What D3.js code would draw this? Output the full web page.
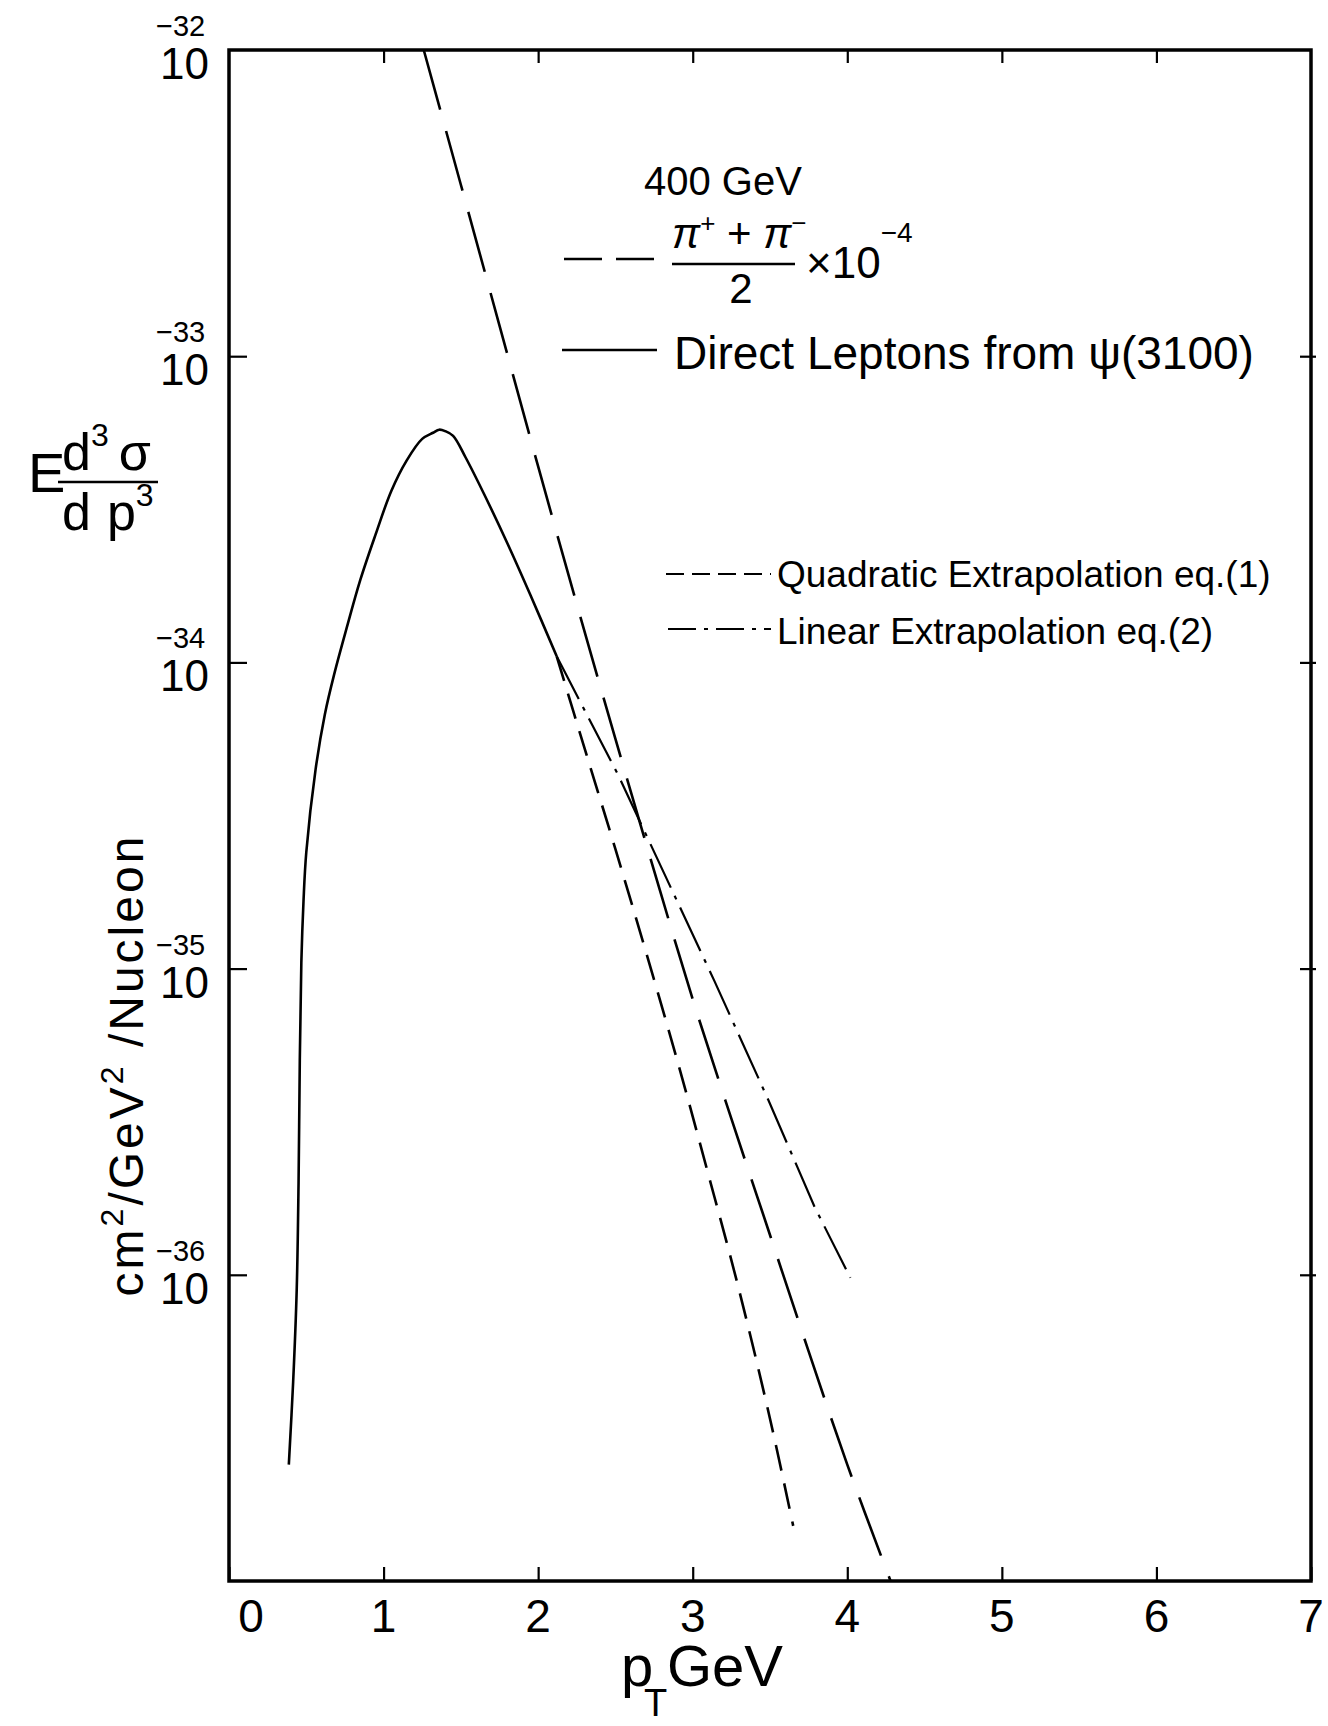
<!DOCTYPE html>
<html>
<head>
<meta charset="utf-8">
<script src="https://cdn.jsdelivr.net/npm/d3@7"></script>
<style>
body { margin: 0; background: #fff; }
text { font-family: "Liberation Sans", Arial, sans-serif; fill: #000; }
</style>
</head>
<body>
<div id="chart"></div>
<script>
// axis ticks
var xTicks = [0, 1, 2, 3, 4, 5, 6, 7];
var yTicks = [1e-32, 1e-33, 1e-34, 1e-35, 1e-36];
var yTickExp = ["\u221232", "\u221233", "\u221234", "\u221235", "\u221236"];

// direct leptons from psi(3100) -- solid curve (pT GeV, log10 of E d3sigma/dp3)
var psiPt  = [0.387, 0.415, 0.438, 0.450, 0.458, 0.468, 0.482, 0.50, 0.56, 0.62, 0.68, 0.76, 0.85, 0.95, 1.05, 1.15, 1.25, 1.32, 1.36, 1.40, 1.45, 1.53, 1.65, 1.80, 1.95, 2.12];
var psiLog = [-36.62, -36.35, -36.05, -35.70, -35.30, -34.98, -34.78, -34.62, -34.35, -34.17, -34.04, -33.89, -33.73, -33.58, -33.44, -33.34, -33.27, -33.25, -33.24, -33.245, -33.26, -33.33, -33.45, -33.61, -33.78, -33.98];

// (pi+ + pi-)/2 x 10^-4 -- long dashes
var pionPt  = [1.26, 1.50, 1.75, 2.00, 2.25, 2.50, 2.75, 3.00, 3.25, 3.50, 3.75, 4.00, 4.28];
var pionLog = [-32.00, -32.44, -32.90, -33.36, -33.81, -34.25, -34.68, -35.10, -35.49, -35.87, -36.25, -36.62, -37.00];

// quadratic extrapolation eq.(1) -- short dashes
var quadPt  = [2.12, 2.30, 2.50, 2.70, 2.90, 3.10, 3.30, 3.50, 3.65];
var quadLog = [-33.98, -34.28, -34.61, -34.95, -35.30, -35.67, -36.05, -36.47, -36.82];

// linear extrapolation eq.(2) -- dash dot
var linPt  = [2.12, 2.52, 3.14, 3.49, 3.79, 4.02];
var linLog = [-33.98, -34.37, -35.04, -35.43, -35.78, -36.01];

var svgWidth = 1328, svgHeight = 1726;
var plotLeft = 229, plotRight = 1311, plotTop = 50, plotBottom = 1581;

var svg = d3.select("#chart").append("svg")
  .attr("width", svgWidth)
  .attr("height", svgHeight);

var x = d3.scaleLinear().domain([0, 7]).range([plotLeft, plotRight]);
var y = d3.scaleLog().domain([1e-37, 1e-32]).range([plotBottom, plotTop]);

function pts(px, lg) {
  return px.map(function(p, i) { return {pt: p, v: Math.pow(10, lg[i])}; });
}

// ticks (pointing into the frame)
function styleAxis(g) {
  g.select(".domain").remove();
  g.selectAll(".tick line").attr("stroke", "#000").attr("stroke-width", 2.2);
  g.selectAll(".tick text").remove();
}
svg.append("g").attr("transform", `translate(0,${plotBottom})`)
  .call(d3.axisBottom(x).tickValues(xTicks).tickSizeInner(-14).tickSizeOuter(0))
  .call(styleAxis);
svg.append("g").attr("transform", `translate(0,${plotTop})`)
  .call(d3.axisTop(x).tickValues(xTicks.slice(1, 7)).tickSizeInner(-13).tickSizeOuter(0))
  .call(styleAxis);
svg.append("g").attr("transform", `translate(${plotLeft},0)`)
  .call(d3.axisLeft(y).tickValues(yTicks.slice(1)).tickSizeInner(-18).tickSizeOuter(0))
  .call(styleAxis);
svg.append("g").attr("transform", `translate(${plotRight + 5},0)`)
  .call(d3.axisRight(y).tickValues(yTicks.slice(1)).tickSizeInner(-16).tickSizeOuter(0))
  .call(styleAxis);

// frame
svg.append("rect")
  .attr("x", plotLeft).attr("y", plotTop)
  .attr("width", plotRight - plotLeft).attr("height", plotBottom - plotTop)
  .attr("fill", "none").attr("stroke", "#000").attr("stroke-width", 3.5);

// x tick labels
svg.selectAll(".xlab").data(xTicks).enter().append("text")
  .attr("class", "xlab")
  .attr("x", d => x(d) + (d === 0 ? 22 : 0))
  .attr("y", 1632)
  .attr("text-anchor", "middle")
  .attr("font-size", 46)
  .text(d => d);

// y tick labels: 10 with superscript exponent
var yl = svg.selectAll(".ylab").data(yTicks).enter().append("g").attr("class", "ylab");
yl.append("text")
  .attr("x", 209).attr("y", d => y(d) + 29)
  .attr("text-anchor", "end")
  .attr("font-size", 44)
  .text("10");
yl.append("text")
  .attr("x", 156).attr("y", d => y(d) - 14)
  .attr("font-size", 29)
  .text((d, i) => yTickExp[i]);

// curves
var line = d3.line().x(d => x(d.pt)).y(d => y(d.v));

svg.append("path")
  .datum(pts(psiPt, psiLog))
  .attr("d", line.curve(d3.curveCatmullRom.alpha(0.5)))
  .attr("fill", "none").attr("stroke", "#000").attr("stroke-width", 2.6);

svg.append("path")
  .datum(pts(pionPt, pionLog))
  .attr("d", line.curve(d3.curveCatmullRom.alpha(0.5)))
  .attr("fill", "none").attr("stroke", "#000").attr("stroke-width", 2.6)
  .attr("stroke-dasharray", "62,22");

svg.append("path")
  .datum(pts(quadPt, quadLog))
  .attr("d", line.curve(d3.curveCatmullRom.alpha(0.5)))
  .attr("fill", "none").attr("stroke", "#000").attr("stroke-width", 2.6)
  .attr("stroke-dasharray", "26,13");

svg.append("path")
  .datum(pts(linPt, linLog))
  .attr("d", line.curve(d3.curveLinear))
  .attr("fill", "none").attr("stroke", "#000").attr("stroke-width", 2.2)
  .attr("stroke-dasharray", "48,9,4,9");

// legend
svg.append("text").attr("x", 644).attr("y", 195).attr("font-size", 40).text("400 GeV");

svg.append("line").attr("x1", 564).attr("x2", 657).attr("y1", 259).attr("y2", 259)
  .attr("stroke", "#000").attr("stroke-width", 2.4).attr("stroke-dasharray", "38,14");
var num = svg.append("text").attr("x", 672).attr("y", 248).attr("font-size", 42).attr("font-style", "italic");
num.append("tspan").text("\u03c0");
num.append("tspan").attr("dy", -16).attr("font-size", 26).attr("font-style", "normal").text("+");
num.append("tspan").attr("dy", 16).attr("font-style", "normal").text(" + ");
num.append("tspan").text("\u03c0");
num.append("tspan").attr("dy", -16).attr("font-size", 26).attr("font-style", "normal").text("\u2212");
svg.append("line").attr("x1", 672).attr("x2", 795).attr("y1", 264).attr("y2", 264)
  .attr("stroke", "#000").attr("stroke-width", 2.4);
svg.append("text").attr("x", 741).attr("y", 303).attr("text-anchor", "middle").attr("font-size", 42).text("2");
var times = svg.append("text").attr("x", 806).attr("y", 278).attr("font-size", 44);
times.append("tspan").text("\u00d710");
times.append("tspan").attr("dy", -36).attr("font-size", 28).text("\u22124");

svg.append("line").attr("x1", 562).attr("x2", 657).attr("y1", 350).attr("y2", 350)
  .attr("stroke", "#000").attr("stroke-width", 2.4);
svg.append("text").attr("x", 674).attr("y", 369).attr("font-size", 46)
  .text("Direct Leptons from \u03c8(3100)");

svg.append("line").attr("x1", 666).attr("x2", 771).attr("y1", 574).attr("y2", 574)
  .attr("stroke", "#000").attr("stroke-width", 2.2).attr("stroke-dasharray", "18,8");
svg.append("text").attr("x", 777).attr("y", 587).attr("font-size", 37)
  .text("Quadratic Extrapolation eq.(1)");

svg.append("line").attr("x1", 668).attr("x2", 771).attr("y1", 629).attr("y2", 629)
  .attr("stroke", "#000").attr("stroke-width", 2.2).attr("stroke-dasharray", "28,8,4,8");
svg.append("text").attr("x", 777).attr("y", 644).attr("font-size", 37)
  .text("Linear Extrapolation eq.(2)");

// y axis title: E d3sigma / d p3
svg.append("text").attr("x", 28).attr("y", 492).attr("font-size", 56).text("E");
var yn = svg.append("text").attr("x", 62).attr("y", 470).attr("font-size", 52);
yn.append("tspan").text("d");
yn.append("tspan").attr("dy", -24).attr("font-size", 32).text("3");
yn.append("tspan").attr("dy", 24).attr("dx", 10).text("\u03c3");
svg.append("line").attr("x1", 58).attr("x2", 158).attr("y1", 482).attr("y2", 482)
  .attr("stroke", "#000").attr("stroke-width", 2.4);
var yd = svg.append("text").attr("x", 62).attr("y", 530).attr("font-size", 52);
yd.append("tspan").text("d");
yd.append("tspan").attr("dx", 16).text("p");
yd.append("tspan").attr("dy", -24).attr("font-size", 32).text("3");

// rotated unit label
var ul = svg.append("text")
  .attr("transform", "translate(143,1065) rotate(-90)")
  .attr("text-anchor", "middle")
  .attr("font-size", 48)
  .attr("letter-spacing", 3);
ul.append("tspan").text("cm");
ul.append("tspan").attr("dy", -20).attr("font-size", 32).text("2");
ul.append("tspan").attr("dy", 20).text("/GeV");
ul.append("tspan").attr("dy", -20).attr("font-size", 32).text("2");
ul.append("tspan").attr("dy", 20).text(" /Nucleon");

// x axis title: p_T GeV
svg.append("text").attr("x", 621).attr("y", 1686).attr("font-size", 58).text("p");
svg.append("text").attr("x", 644).attr("y", 1716).attr("font-size", 38).text("T");
svg.append("text").attr("x", 667).attr("y", 1686).attr("font-size", 58).text("GeV");
</script>
</body>
</html>
